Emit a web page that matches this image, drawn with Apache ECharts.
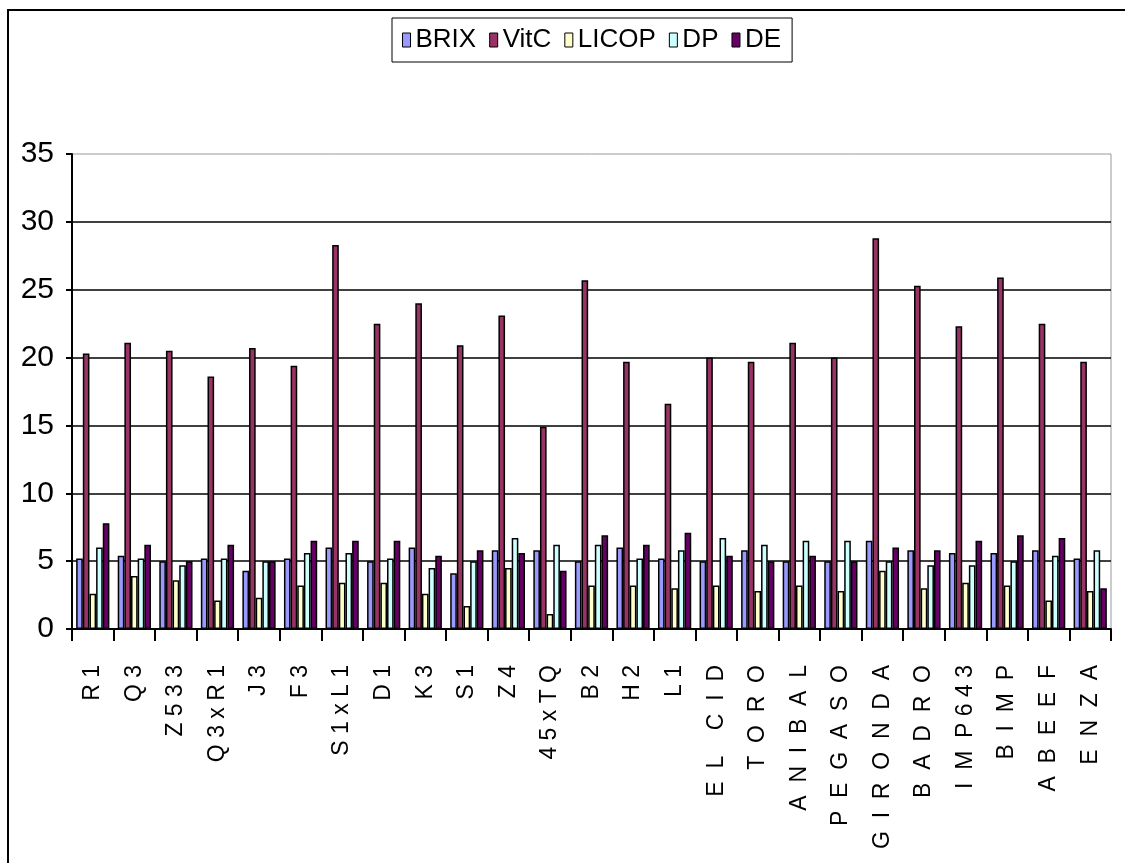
<!DOCTYPE html>
<html>
<head>
<meta charset="utf-8">
<script src="https://cdn.jsdelivr.net/npm/echarts@6/dist/echarts.min.js"></script>
<style>
html,body{margin:0;padding:0;background:#fff;}
#c{width:1125px;height:863px;}
</style>
</head>
<body>
<div id="c"></div>
<script>
const categories = ["R 1","Q 3","Z 5 3 3","Q 3 x R 1","J 3","F 3","S 1 x L 1","D 1","K 3","S 1","Z 4","4 5 x T Q","B 2","H 2","L 1",
  "E  L    C  I  D","T  O  R  O","A  N  I  B  A  L","P  E  G  A  S  O","G  I  R  O  N  D  A","B  A  D  R  O","I  M  P 6 4 3","B  I  M  P","A  B  E  E  F","E  N  Z  A"];
const seriesNames = ["BRIX","VitC","LICOP","DP","DE"];
const brix  = [5.2,5.4,5.0,5.2,4.3,5.2,6.0,5.0,6.0,4.1,5.8,5.8,5.0,6.0,5.2,5.0,5.8,5.0,5.0,6.5,5.8,5.6,5.6,5.8,5.2];
const vitc  = [20.3,21.1,20.5,18.6,20.7,19.4,28.3,22.5,24.0,20.9,23.1,14.9,25.7,19.7,16.6,20.0,19.7,21.1,20.0,28.8,25.3,22.3,25.9,22.5,19.7];
const licop = [2.6,3.9,3.6,2.1,2.3,3.2,3.4,3.4,2.6,1.7,4.5,1.1,3.2,3.2,3.0,3.2,2.8,3.2,2.8,4.3,3.0,3.4,3.2,2.1,2.8];
const dp    = [6.0,5.2,4.7,5.2,5.0,5.6,5.6,5.2,4.5,5.0,6.7,6.2,6.2,5.2,5.8,6.7,6.2,6.5,6.5,5.0,4.7,4.7,5.0,5.4,5.8];
const de    = [7.8,6.2,5.0,6.2,5.0,6.5,6.5,6.5,5.4,5.8,5.6,4.3,6.9,6.2,7.1,5.4,5.0,5.4,5.0,6.0,5.8,6.5,6.9,6.7,3.0];
const yTicks = [0,5,10,15,20,25,30,35];

const colors = ["#9999FF","#993366","#FFFFCC","#CCFFFF","#660066"];
const values = [brix, vitc, licop, dp, de];
const font = "'Liberation Sans',Arial,sans-serif";

const chart = echarts.init(document.getElementById('c'), null, {renderer:'canvas'});
chart.setOption({
  animation:false,
  backgroundColor:'#fff',
  color: colors,
  graphic:[{
    type:'rect', shape:{x:8,y:10,width:1200,height:1000},
    style:{fill:'none',stroke:'#000',lineWidth:2}, silent:true, z:-1
  }],
  legend:{
    left:392, top:18,
    orient:'horizontal',
    itemWidth:8, itemHeight:14, itemGap:13,
    icon:'rect',
    padding:[9,11,9,10],
    borderColor:'#000', borderWidth:1,
    textStyle:{fontFamily:font,fontSize:26,color:'#000'},
    itemStyle:{borderColor:'#000',borderWidth:1},
    data: seriesNames
  },
  grid:{left:72,right:14,top:154,bottom:234,show:true,borderColor:'#999',borderWidth:1,containLabel:false},
  xAxis:{
    type:'category',
    data:categories,
    boundaryGap:true,
    axisLine:{lineStyle:{color:'#000',width:2}},
    axisTick:{show:true,length:12,lineStyle:{color:'#000',width:2}},
    axisLabel:{rotate:90,margin:36,interval:0,color:'#000',fontFamily:font,fontSize:23}
  },
  yAxis:{
    type:'value', min:yTicks[0], max:yTicks[yTicks.length-1], interval:5,
    axisLine:{show:true,lineStyle:{color:'#000',width:2}},
    axisTick:{show:true,inside:false,length:6,lineStyle:{color:'#000',width:2}},
    axisLabel:{margin:18,color:'#000',fontFamily:font,fontSize:30},
    splitLine:{show:true,showMaxLine:false,lineStyle:{color:'#000',width:1.5}}
  },
  series: seriesNames.map((n,i)=>({
    name:n, type:'bar', data: values[i],
    barGap:'0%', barCategoryGap:'20%',
    itemStyle:{color:colors[i],borderColor:'#000',borderWidth:1.5}
  }))
});
</script>
</body>
</html>
